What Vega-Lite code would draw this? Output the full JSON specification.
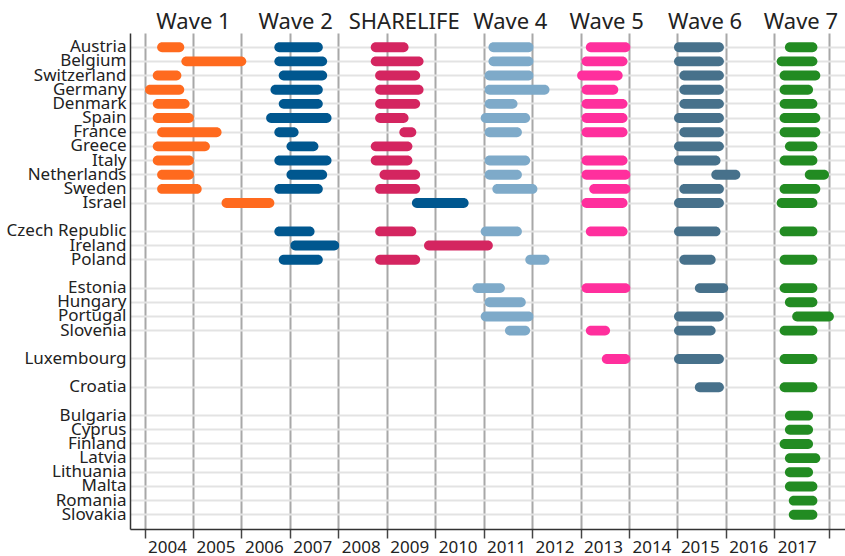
{
  "$schema": "https://vega.github.io/schema/vega-lite/v6.json",
  "width": 715,
  "height": 496,
  "autosize": {"type": "none"},
  "padding": {"left": 130, "top": 33, "right": 0, "bottom": 27},
  "background": "white",
  "config": {"view": {"stroke": null}, "font": "Noto Sans"},
  "data": {
    "values": [
      {"country": "Austria", "wave": "Wave 1", "start": 2004.26, "end": 2004.82},
      {"country": "Belgium", "wave": "Wave 1", "start": 2004.76, "end": 2006.10},
      {"country": "Switzerland", "wave": "Wave 1", "start": 2004.17, "end": 2004.76},
      {"country": "Germany", "wave": "Wave 1", "start": 2004.01, "end": 2004.82},
      {"country": "Denmark", "wave": "Wave 1", "start": 2004.17, "end": 2004.93},
      {"country": "Spain", "wave": "Wave 1", "start": 2004.17, "end": 2005.02},
      {"country": "France", "wave": "Wave 1", "start": 2004.26, "end": 2005.59},
      {"country": "Greece", "wave": "Wave 1", "start": 2004.17, "end": 2005.35},
      {"country": "Italy", "wave": "Wave 1", "start": 2004.17, "end": 2005.02},
      {"country": "Netherlands", "wave": "Wave 1", "start": 2004.26, "end": 2005.02},
      {"country": "Sweden", "wave": "Wave 1", "start": 2004.26, "end": 2005.18},
      {"country": "Israel", "wave": "Wave 1", "start": 2005.59, "end": 2006.68},

      {"country": "Austria", "wave": "Wave 2", "start": 2006.68, "end": 2007.68},
      {"country": "Belgium", "wave": "Wave 2", "start": 2006.68, "end": 2007.77},
      {"country": "Switzerland", "wave": "Wave 2", "start": 2006.77, "end": 2007.77},
      {"country": "Germany", "wave": "Wave 2", "start": 2006.60, "end": 2007.68},
      {"country": "Denmark", "wave": "Wave 2", "start": 2006.77, "end": 2007.68},
      {"country": "Spain", "wave": "Wave 2", "start": 2006.51, "end": 2007.86},
      {"country": "France", "wave": "Wave 2", "start": 2006.68, "end": 2007.18},
      {"country": "Greece", "wave": "Wave 2", "start": 2006.93, "end": 2007.59},
      {"country": "Italy", "wave": "Wave 2", "start": 2006.68, "end": 2007.86},
      {"country": "Netherlands", "wave": "Wave 2", "start": 2006.93, "end": 2007.77},
      {"country": "Sweden", "wave": "Wave 2", "start": 2006.68, "end": 2007.68},
      {"country": "Israel", "wave": "Wave 2", "start": 2009.52, "end": 2010.69},
      {"country": "Czech Republic", "wave": "Wave 2", "start": 2006.68, "end": 2007.51},
      {"country": "Ireland", "wave": "Wave 2", "start": 2007.01, "end": 2008.02},
      {"country": "Poland", "wave": "Wave 2", "start": 2006.77, "end": 2007.68},

      {"country": "Austria", "wave": "SHARELIFE", "start": 2008.67, "end": 2009.45},
      {"country": "Belgium", "wave": "SHARELIFE", "start": 2008.67, "end": 2009.76},
      {"country": "Switzerland", "wave": "SHARELIFE", "start": 2008.76, "end": 2009.69},
      {"country": "Germany", "wave": "SHARELIFE", "start": 2008.76, "end": 2009.76},
      {"country": "Denmark", "wave": "SHARELIFE", "start": 2008.76, "end": 2009.69},
      {"country": "Spain", "wave": "SHARELIFE", "start": 2008.76, "end": 2009.45},
      {"country": "France", "wave": "SHARELIFE", "start": 2009.26, "end": 2009.61},
      {"country": "Greece", "wave": "SHARELIFE", "start": 2008.67, "end": 2009.53},
      {"country": "Italy", "wave": "SHARELIFE", "start": 2008.67, "end": 2009.53},
      {"country": "Netherlands", "wave": "SHARELIFE", "start": 2008.85, "end": 2009.69},
      {"country": "Sweden", "wave": "SHARELIFE", "start": 2008.76, "end": 2009.69},
      {"country": "Czech Republic", "wave": "SHARELIFE", "start": 2008.76, "end": 2009.61},
      {"country": "Ireland", "wave": "SHARELIFE", "start": 2009.77, "end": 2011.19},
      {"country": "Poland", "wave": "SHARELIFE", "start": 2008.76, "end": 2009.69},

      {"country": "Austria", "wave": "Wave 4", "start": 2011.10, "end": 2012.03},
      {"country": "Belgium", "wave": "Wave 4", "start": 2011.10, "end": 2012.03},
      {"country": "Switzerland", "wave": "Wave 4", "start": 2011.02, "end": 2012.03},
      {"country": "Germany", "wave": "Wave 4", "start": 2011.02, "end": 2012.36},
      {"country": "Denmark", "wave": "Wave 4", "start": 2011.02, "end": 2011.70},
      {"country": "Spain", "wave": "Wave 4", "start": 2010.94, "end": 2011.96},
      {"country": "France", "wave": "Wave 4", "start": 2011.02, "end": 2011.79},
      {"country": "Italy", "wave": "Wave 4", "start": 2011.02, "end": 2011.96},
      {"country": "Netherlands", "wave": "Wave 4", "start": 2011.02, "end": 2011.79},
      {"country": "Sweden", "wave": "Wave 4", "start": 2011.18, "end": 2012.11},
      {"country": "Czech Republic", "wave": "Wave 4", "start": 2010.94, "end": 2011.79},
      {"country": "Poland", "wave": "Wave 4", "start": 2011.86, "end": 2012.36},
      {"country": "Estonia", "wave": "Wave 4", "start": 2010.77, "end": 2011.44},
      {"country": "Hungary", "wave": "Wave 4", "start": 2011.02, "end": 2011.87},
      {"country": "Portugal", "wave": "Wave 4", "start": 2010.94, "end": 2012.03},
      {"country": "Slovenia", "wave": "Wave 4", "start": 2011.44, "end": 2011.96},

      {"country": "Austria", "wave": "Wave 5", "start": 2013.11, "end": 2014.03},
      {"country": "Belgium", "wave": "Wave 5", "start": 2013.02, "end": 2013.97},
      {"country": "Switzerland", "wave": "Wave 5", "start": 2012.93, "end": 2013.87},
      {"country": "Germany", "wave": "Wave 5", "start": 2013.02, "end": 2013.78},
      {"country": "Denmark", "wave": "Wave 5", "start": 2013.02, "end": 2013.97},
      {"country": "Spain", "wave": "Wave 5", "start": 2013.02, "end": 2013.97},
      {"country": "France", "wave": "Wave 5", "start": 2013.02, "end": 2013.97},
      {"country": "Italy", "wave": "Wave 5", "start": 2013.02, "end": 2013.97},
      {"country": "Netherlands", "wave": "Wave 5", "start": 2013.02, "end": 2014.03},
      {"country": "Sweden", "wave": "Wave 5", "start": 2013.18, "end": 2014.03},
      {"country": "Israel", "wave": "Wave 5", "start": 2013.02, "end": 2013.97},
      {"country": "Czech Republic", "wave": "Wave 5", "start": 2013.11, "end": 2013.97},
      {"country": "Estonia", "wave": "Wave 5", "start": 2013.02, "end": 2014.03},
      {"country": "Slovenia", "wave": "Wave 5", "start": 2013.11, "end": 2013.61},
      {"country": "Luxembourg", "wave": "Wave 5", "start": 2013.44, "end": 2014.03},

      {"country": "Austria", "wave": "Wave 6", "start": 2014.93, "end": 2015.96},
      {"country": "Belgium", "wave": "Wave 6", "start": 2014.93, "end": 2015.96},
      {"country": "Switzerland", "wave": "Wave 6", "start": 2015.04, "end": 2015.96},
      {"country": "Germany", "wave": "Wave 6", "start": 2015.04, "end": 2015.96},
      {"country": "Denmark", "wave": "Wave 6", "start": 2015.04, "end": 2015.96},
      {"country": "Spain", "wave": "Wave 6", "start": 2014.93, "end": 2015.96},
      {"country": "France", "wave": "Wave 6", "start": 2015.04, "end": 2015.96},
      {"country": "Greece", "wave": "Wave 6", "start": 2014.93, "end": 2015.96},
      {"country": "Italy", "wave": "Wave 6", "start": 2014.93, "end": 2015.89},
      {"country": "Netherlands", "wave": "Wave 6", "start": 2015.70, "end": 2016.30},
      {"country": "Sweden", "wave": "Wave 6", "start": 2015.04, "end": 2015.96},
      {"country": "Israel", "wave": "Wave 6", "start": 2014.93, "end": 2015.96},
      {"country": "Czech Republic", "wave": "Wave 6", "start": 2014.93, "end": 2015.89},
      {"country": "Poland", "wave": "Wave 6", "start": 2015.04, "end": 2015.79},
      {"country": "Estonia", "wave": "Wave 6", "start": 2015.36, "end": 2016.05},
      {"country": "Portugal", "wave": "Wave 6", "start": 2014.93, "end": 2015.96},
      {"country": "Slovenia", "wave": "Wave 6", "start": 2014.93, "end": 2015.79},
      {"country": "Luxembourg", "wave": "Wave 6", "start": 2014.93, "end": 2015.96},
      {"country": "Croatia", "wave": "Wave 6", "start": 2015.36, "end": 2015.96},

      {"country": "Austria", "wave": "Wave 7", "start": 2017.22, "end": 2017.89},
      {"country": "Belgium", "wave": "Wave 7", "start": 2017.05, "end": 2017.89},
      {"country": "Switzerland", "wave": "Wave 7", "start": 2017.11, "end": 2017.95},
      {"country": "Germany", "wave": "Wave 7", "start": 2017.11, "end": 2017.80},
      {"country": "Denmark", "wave": "Wave 7", "start": 2017.11, "end": 2017.89},
      {"country": "Spain", "wave": "Wave 7", "start": 2017.11, "end": 2017.95},
      {"country": "France", "wave": "Wave 7", "start": 2017.11, "end": 2017.95},
      {"country": "Greece", "wave": "Wave 7", "start": 2017.22, "end": 2017.89},
      {"country": "Italy", "wave": "Wave 7", "start": 2017.11, "end": 2017.89},
      {"country": "Netherlands", "wave": "Wave 7", "start": 2017.63, "end": 2018.13},
      {"country": "Sweden", "wave": "Wave 7", "start": 2017.11, "end": 2017.95},
      {"country": "Israel", "wave": "Wave 7", "start": 2017.05, "end": 2017.89},
      {"country": "Czech Republic", "wave": "Wave 7", "start": 2017.11, "end": 2017.89},
      {"country": "Poland", "wave": "Wave 7", "start": 2017.11, "end": 2017.89},
      {"country": "Estonia", "wave": "Wave 7", "start": 2017.11, "end": 2017.89},
      {"country": "Hungary", "wave": "Wave 7", "start": 2017.22, "end": 2017.89},
      {"country": "Portugal", "wave": "Wave 7", "start": 2017.37, "end": 2018.23},
      {"country": "Slovenia", "wave": "Wave 7", "start": 2017.11, "end": 2017.89},
      {"country": "Luxembourg", "wave": "Wave 7", "start": 2017.11, "end": 2017.89},
      {"country": "Croatia", "wave": "Wave 7", "start": 2017.11, "end": 2017.89},
      {"country": "Bulgaria", "wave": "Wave 7", "start": 2017.22, "end": 2017.80},
      {"country": "Cyprus", "wave": "Wave 7", "start": 2017.22, "end": 2017.80},
      {"country": "Finland", "wave": "Wave 7", "start": 2017.11, "end": 2017.80},
      {"country": "Latvia", "wave": "Wave 7", "start": 2017.22, "end": 2017.95},
      {"country": "Lithuania", "wave": "Wave 7", "start": 2017.22, "end": 2017.80},
      {"country": "Malta", "wave": "Wave 7", "start": 2017.22, "end": 2017.89},
      {"country": "Romania", "wave": "Wave 7", "start": 2017.30, "end": 2017.89},
      {"country": "Slovakia", "wave": "Wave 7", "start": 2017.30, "end": 2017.89}
    ]
  },
  "layer": [
    {
      "mark": {"type": "bar", "cornerRadius": 5, "height": {"band": 0.7}},
      "encoding": {
        "y": {
          "field": "country",
          "type": "nominal",
          "scale": {
            "domain": ["Austria", "Belgium", "Switzerland", "Germany", "Denmark", "Spain", "France", "Greece", "Italy", "Netherlands", "Sweden", "Israel", "gap1", "Czech Republic", "Ireland", "Poland", "gap2", "Estonia", "Hungary", "Portugal", "Slovenia", "gap3", "Luxembourg", "gap4", "Croatia", "gap5", "Bulgaria", "Cyprus", "Finland", "Latvia", "Lithuania", "Malta", "Romania", "Slovakia"],
            "paddingInner": 0,
            "paddingOuter": 0.5
          },
          "axis": {
            "title": null,
            "ticks": false,
            "labelPadding": 4,
            "labelFontSize": 17,
            "labelColor": "#222222",
            "labelExpr": "indexof(datum.value, 'gap') == 0 ? '' : datum.value",
            "labelOverlap": false,
            "labelBound": false,
            "domainColor": "#333333",
            "domainWidth": 1.5,
            "grid": true,
            "gridColor": {"condition": {"test": "indexof(datum.value, 'gap') == 0", "value": "rgba(0,0,0,0)"}, "value": "#e3e3e3"},
            "gridWidth": 2
          }
        },
        "x": {
          "field": "start",
          "type": "quantitative",
          "scale": {"domain": [2003.7, 2018.46], "nice": false, "zero": false},
          "axis": {
            "title": null,
            "values": [2004, 2005, 2006, 2007, 2008, 2009, 2010, 2011, 2012, 2013, 2014, 2015, 2016, 2017, 2018.13],
            "grid": true,
            "gridColor": "#a8a8a8",
            "gridWidth": 2,
            "tickColor": "#444444",
            "tickSize": 9,
            "tickWidth": 1.5,
            "domainColor": "#333333",
            "domainWidth": 1.5,
            "labelAlign": "left",
            "labelOffset": 3,
            "labelPadding": 1,
            "labelFontSize": 17,
            "labelColor": "#222222",
            "labelExpr": "datum.value > 2017.5 ? '' : format(datum.value, 'd')",
            "labelFlush": false,
            "labelOverlap": false,
            "labelBound": false
          }
        },
        "x2": {"field": "end"},
        "color": {
          "field": "wave",
          "type": "nominal",
          "scale": {
            "domain": ["Wave 1", "Wave 2", "SHARELIFE", "Wave 4", "Wave 5", "Wave 6", "Wave 7"],
            "range": ["#ff6a1e", "#00578f", "#d42560", "#7eaac9", "#ff2f9d", "#47718b", "#228b22"]
          },
          "legend": null
        }
      }
    },
    {
      "data": {
        "values": [
          {"title": "Wave 1", "center": 2005.0},
          {"title": "Wave 2", "center": 2007.11},
          {"title": "SHARELIFE", "center": 2009.35},
          {"title": "Wave 4", "center": 2011.54},
          {"title": "Wave 5", "center": 2013.53},
          {"title": "Wave 6", "center": 2015.56},
          {"title": "Wave 7", "center": 2017.54}
        ]
      },
      "mark": {"type": "point", "opacity": 0},
      "encoding": {
        "x": {
          "field": "center",
          "type": "quantitative",
          "axis": {
            "orient": "top",
            "title": null,
            "values": [2005.0, 2007.11, 2009.35, 2011.54, 2013.53, 2015.56, 2017.54],
            "domain": false,
            "ticks": false,
            "grid": false,
            "labelFontSize": 22,
            "labelColor": "#222222",
            "labelPadding": 0,
            "labelExpr": "['Wave 1','Wave 2','SHARELIFE','Wave 4','Wave 5','Wave 6','Wave 7'][round((datum.value - 2005) / 2.09)]",
            "labelOverlap": false,
            "labelBound": false,
            "labelFlush": false
          }
        }
      }
    }
  ],
  "resolve": {"axis": {"x": "independent"}}
}
